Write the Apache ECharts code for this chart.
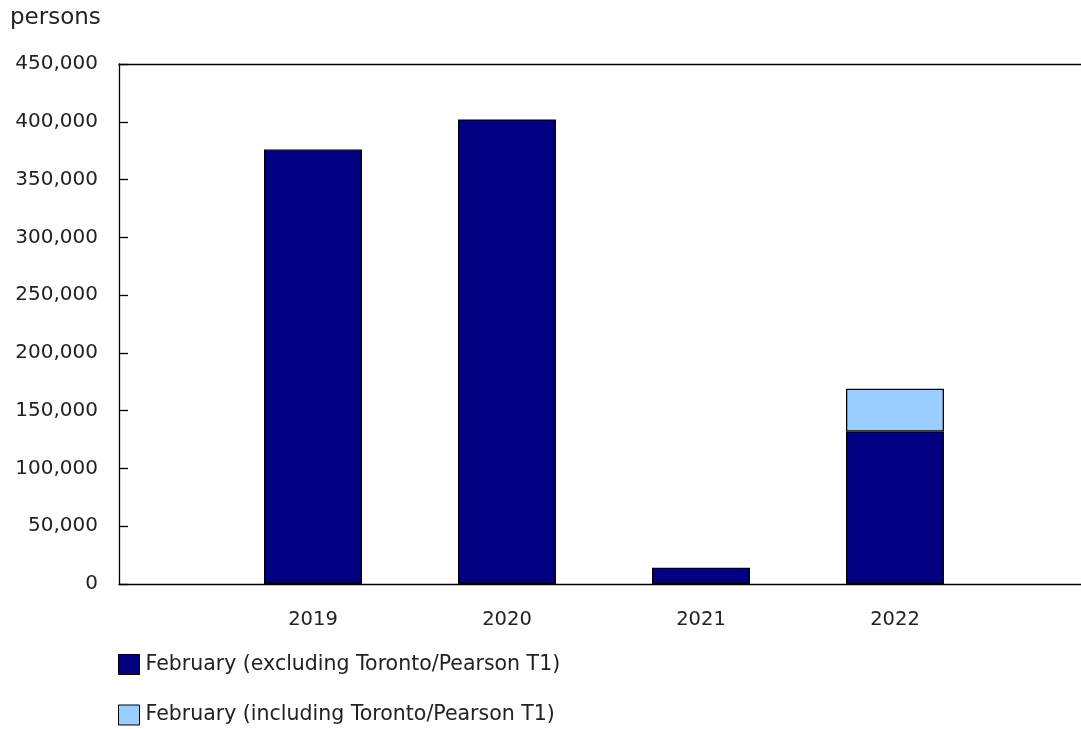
<!DOCTYPE html>
<html>
<head>
<meta charset="utf-8">
<script src="https://cdn.jsdelivr.net/npm/echarts@6/dist/echarts.min.js"></script>
<style>html,body{margin:0;padding:0;background:#fff;}#c{width:1081px;height:729px;}</style>
</head>
<body>
<div id="c"></div>
<script>
var categories = ['2019', '2020', '2021', '2022'];
var excludingT1 = [376000, 402000, 14000, 132000];
var addedT1 = [null, null, null, 37000];
var yTicks = { min: 0, max: 450000, interval: 50000 };
var seriesNames = ['February (excluding Toronto/Pearson T1)', 'February (including Toronto/Pearson T1)'];

var axisData = [''].concat(categories).concat(['']);
function pad(a) { return [null].concat(a).concat([null]); }

var FONT = 'DejaVu Sans';
var chart = echarts.init(document.getElementById('c'), null, { renderer: 'canvas' });
chart.setOption({
  animation: false,
  backgroundColor: '#ffffff',
  textStyle: { fontFamily: FONT },
  title: {
    text: 'persons', left: 10, top: 7, padding: 0,
    textStyle: { fontFamily: FONT, fontSize: 23, fontWeight: 'normal', color: '#222' }
  },
  grid: { left: 119, top: 64, height: 520, width: 970, containLabel: false, outerBoundsMode: 'none' },
  legend: {
    orient: 'vertical', left: 118, top: 654, padding: 0, height: 200,
    itemWidth: 21, itemHeight: 20, itemGap: 29.5,
    icon: 'rect', selectedMode: false,
    itemStyle: { borderColor: '#000', borderWidth: 1 },
    textStyle: { fontFamily: FONT, fontSize: 20.5, color: '#222', padding: [0, 0, 0, 1] },
    data: seriesNames
  },
  xAxis: [{
    type: 'category', data: axisData, boundaryGap: false, position: 'bottom',
    axisLine: { show: true, lineStyle: { color: '#000', width: 1.3 } },
    axisTick: { show: false },
    axisLabel: { fontFamily: FONT, fontSize: 19.5, color: '#222', margin: 26, interval: 0 },
    splitLine: { show: false }
  }, {
    type: 'category', data: axisData, boundaryGap: false, position: 'top',
    axisLine: { show: true, onZero: false, lineStyle: { color: '#000', width: 1.3 } },
    axisTick: { show: false }, axisLabel: { show: false }, splitLine: { show: false }
  }],
  yAxis: {
    type: 'value', min: yTicks.min, max: yTicks.max, interval: yTicks.interval,
    axisLine: { show: true, lineStyle: { color: '#000', width: 1.3 } },
    axisTick: { show: true, inside: true, length: 9, lineStyle: { color: '#000', width: 1.3 } },
    axisLabel: {
      fontFamily: FONT, fontSize: 20, color: '#222', margin: 21,
      formatter: function (v) { return v.toLocaleString('en-US'); }
    },
    splitLine: { show: false }
  },
  series: [{
    name: seriesNames[0], type: 'bar', stack: 'total', xAxisIndex: 0,
    barWidth: 98, data: pad(excludingT1),
    itemStyle: { color: '#000080', borderColor: '#000', borderWidth: 1.3 }
  }, {
    name: seriesNames[1], type: 'bar', stack: 'total', xAxisIndex: 0,
    barWidth: 98, data: pad(addedT1),
    itemStyle: { color: '#99CCFF', borderColor: '#000', borderWidth: 1.3 }
  }]
});
</script>
</body>
</html>
